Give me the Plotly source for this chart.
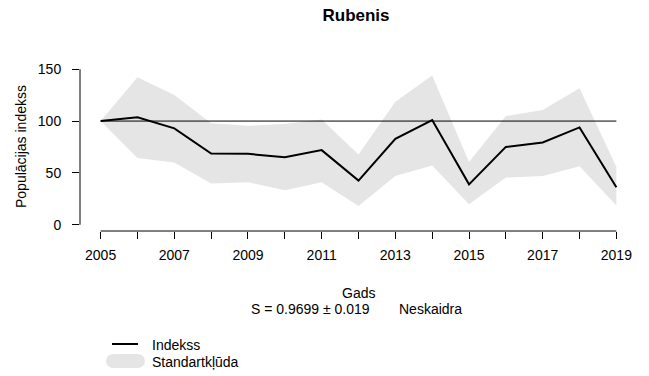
import plotly.graph_objects as go

# ---- data ----
years = [2005, 2006, 2007, 2008, 2009, 2010, 2011, 2012, 2013, 2014, 2015, 2016, 2017, 2018, 2019]
index_vals = [100, 103.6, 93, 68.7, 68.4, 65.2, 72, 42.6, 82.9, 101, 39, 75.1, 79.4, 93.9, 36.1]
upper_vals = [100, 142.3, 125.2, 97.8, 95.5, 97.1, 101.6, 67.8, 118.7, 143.9, 60.6, 104.8, 110.6, 131.7, 55.8]
lower_vals = [100, 64.5, 60, 39.7, 41, 33.2, 41, 18, 47, 57.1, 19.7, 45.5, 47, 56.4, 18.7]
baseline = 100
y_ticks = [0, 50, 100, 150]
x_tick_labels = [str(y) if (y - years[0]) % 2 == 0 else "" for y in years]

title_text = "Rubenis"
x_title = "Gads"
y_title = "Populācijas indekss"
stat_text = "S = 0.9699 ± 0.019"
trend_text = "Neskaidra"
legend_labels = ["Indekss", "Standartkļūda"]

# ---- layout geometry (pixels) ----
W, H = 649, 376
L, R, T, B = 80, 12, 63, 145
pw, ph = W - L - R, H - T - B
span = years[-1] - years[0]
xr = [years[0] - 0.04 * span, years[-1] + 0.04 * span]
yr = [-0.04 * 150, 150 * 1.04]

def px(x):
    return (x - L) / pw

def py(y):
    return (H - B - y) / ph

FONT = "Liberation Sans, Arial, sans-serif"
BAND = "#E5E5E5"

fig = go.Figure()
fig.add_trace(go.Scatter(x=years, y=upper_vals, mode="lines", line=dict(width=0),
                         hoverinfo="skip", showlegend=False))
fig.add_trace(go.Scatter(x=years, y=lower_vals, mode="lines", line=dict(width=0),
                         fill="tonexty", fillcolor=BAND, hoverinfo="skip", showlegend=False))
fig.add_trace(go.Scatter(x=[years[0], years[-1]], y=[baseline, baseline], mode="lines",
                         line=dict(color="black", width=1), showlegend=False))
fig.add_trace(go.Scatter(x=years, y=index_vals, mode="lines",
                         line=dict(color="black", width=2), showlegend=False))

shapes = [
    dict(type="line", xref="x", yref="paper", x0=years[0], x1=years[-1], y0=0, y1=0,
         line=dict(color="black", width=1)),
    dict(type="line", xref="paper", yref="y", x0=0, x1=0, y0=y_ticks[0], y1=y_ticks[-1],
         line=dict(color="black", width=1)),
    # legend symbols
    dict(type="line", xref="paper", yref="paper", x0=px(112), x1=px(138), y0=py(344), y1=py(344),
         line=dict(color="black", width=2)),
]
# rounded gray legend key
x0p, x1p, yc, r = 113, 138, 361, 7
path = (f"M {px(x0p)},{py(yc - r)} L {px(x1p)},{py(yc - r)} "
        f"L {px(x1p)},{py(yc + r)} L {px(x0p)},{py(yc + r)} Z")
shapes.append(dict(type="path", xref="paper", yref="paper", path=path,
                   fillcolor=BAND, line=dict(width=0)))
for cx in (x0p, x1p):
    shapes.append(dict(type="circle", xref="paper", yref="paper",
                       x0=px(cx - r), x1=px(cx + r), y0=py(yc + r), y1=py(yc - r),
                       fillcolor=BAND, line=dict(width=0)))

annotations = [
    dict(text=y_title, xref="paper", yref="paper", x=px(21), y=0.5, textangle=-90,
         showarrow=False, xanchor="center", yanchor="middle", font=dict(size=14)),
    dict(text=x_title, xref="paper", yref="paper", x=0.5, y=py(293), showarrow=False,
         xanchor="center", yanchor="middle", font=dict(size=14)),
    dict(text=stat_text, xref="paper", yref="paper", x=px(372), y=py(309), showarrow=False,
         xanchor="right", yanchor="middle", font=dict(size=14)),
    dict(text=trend_text, xref="paper", yref="paper", x=px(397), y=py(309), showarrow=False,
         xanchor="left", yanchor="middle", font=dict(size=14)),
    dict(text=legend_labels[0], xref="paper", yref="paper", x=px(150), y=py(345), showarrow=False,
         xanchor="left", yanchor="middle", font=dict(size=14)),
    dict(text=legend_labels[1], xref="paper", yref="paper", x=px(150), y=py(362), showarrow=False,
         xanchor="left", yanchor="middle", font=dict(size=14)),
]

fig.update_layout(
    width=W, height=H,
    margin=dict(l=L, r=R, t=T, b=B, pad=0),
    paper_bgcolor="white", plot_bgcolor="white",
    font=dict(family=FONT, size=14, color="black"),
    title=dict(text=f"<b>{title_text}</b>", x=px(356), xref="paper", xanchor="center",
               y=1 - 15 / H, yref="container", yanchor="middle",
               font=dict(size=17, color="black")),
    showlegend=False,
    shapes=shapes,
    annotations=annotations,
    xaxis=dict(range=xr, tickvals=years, ticktext=x_tick_labels, ticks="outside",
               ticklen=7, tickwidth=1, tickcolor="black", showgrid=False, zeroline=False,
               showline=False, tickfont=dict(size=14), ticklabelstandoff=4),
    yaxis=dict(range=yr, tickvals=y_ticks, ticks="outside", ticklen=7, tickwidth=1,
               tickcolor="black", showgrid=False, zeroline=False, showline=False,
               tickfont=dict(size=14), ticklabelstandoff=8),
)

fig.write_html("out.html")
